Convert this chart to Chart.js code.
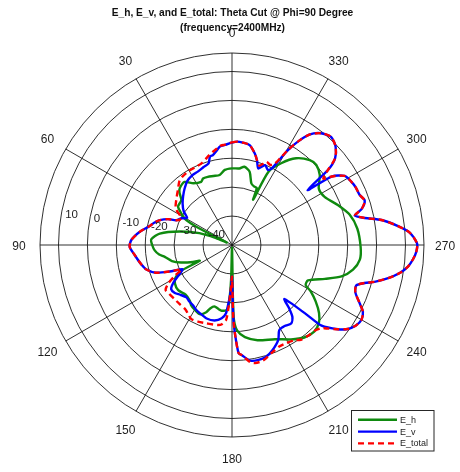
<!DOCTYPE html>
<html>
<head>
<meta charset="utf-8">
<script src="https://cdn.jsdelivr.net/npm/chart.js@4/dist/chart.umd.min.js"></script>
<style>
  html, body { margin: 0; padding: 0; background: #ffffff; }
  canvas { display: block; }
</style>
</head>
<body>
<canvas id="chart" width="460" height="472"></canvas>
<script>
// ---- text ----
const TITLE_LINES = ['E_h, E_v, and E_total: Theta Cut @ Phi=90 Degree', '(frequency=2400MHz)'];
const SERIES_NAMES = ['E_h', 'E_v', 'E_total'];

// ---- polar axes ----
const ANGLE_TICKS = [0, 30, 60, 90, 120, 150, 180, 210, 240, 270, 300, 330];
const RING_LABELS = [-40, -30, -20, -10, 0, 10];
const R_MIN = -50;
const R_MAX = 16.4;
const ANGLE_STEP = 0.5;      // angular resolution of the category axis (deg)
const RING_LABEL_ANGLE = 82; // direction along which ring values are written

// ---- E_h (dB) vs theta (deg) ----
const EH_THETA = [0,5.5,10,15,19.5,23.5,26,32,37,42.5,45,48.5,54.5,58,61.5,63,64.5,66.5,70,75.5,81,86,90,94,97.5,100,105,109,113.5,116,117,120,124,130,137,143,146,150,155,159,161,164,168,171,175.5,177,178.5,180,181,181.5,183.5,188,195,204.5,212,218,223.5,228,232,236,239.5,241.5,245,250,254,258.5,263.5,269,277.5,284.5,290.5,297.5,303,308.5,313.5,317.5,323.5,329,333.5,335,336.5,339,342.5,346.5,351,354.5];
const EH_DB = [-23.5,-23.9,-25.4,-25.3,-25.0,-24.9,-25.7,-24.8,-22.7,-23.3,-24.3,-26.6,-27.1,-29.3,-32.0,-37.0,-48.0,-44.0,-38.0,-31.3,-24.7,-22.0,-22.4,-23.2,-24.6,-26.4,-28.5,-31.4,-35.3,-37.6,-29.7,-27.5,-26.2,-25.7,-26.5,-25.8,-24.8,-24.2,-23.6,-25.1,-26.8,-27.9,-27.4,-27.0,-27.5,-29.8,-38.0,-49.0,-31.0,-24.1,-20.3,-17.8,-15.9,-14.2,-11.5,-9.4,-8.7,-9.6,-11.8,-15.1,-18.4,-21.0,-21.0,-15.8,-10.6,-7.3,-5.5,-5.5,-6.3,-8.0,-10.8,-13.9,-14.2,-11.2,-9.8,-10.2,-12.7,-17.0,-21.7,-32.7,-28.5,-28.4,-27.7,-23.9,-22.6,-23.4];

// ---- E_v (dB) vs theta (deg) ----
const EV_THETA = [0,4,7,9,12,14,16,20,25,30,35,40,45,50,55,59,62,66,68,71,74,77,82,87,91,96,102,106,110,113,116,118,120,123,126,130,134,139,143,147,151,155,161,167,172,175,176.5,178,179,180,181,182,183.5,185,189,193,197,201,206,209,213,217,220,222,224,225.5,227,228,231.5,234,237,240,243,245.5,249,252,254,255.5,258,260.5,263,265.5,268,270.5,274,276.5,279.5,281.5,283.5,285.5,288.5,291.5,295,298,301.5,304.5,306,308,310,313.5,317.5,321.5,325,327.5,329.5,331,332.5,334.5,337.5,341,343.5,346,350,354,357];
const EV_DB = [-14.6,-15.3,-15.7,-16.8,-18.2,-18.5,-20.6,-21.3,-22.0,-22.3,-23.0,-24.5,-26.1,-27.7,-29.6,-31.9,-30.3,-28.9,-26.1,-23.6,-22.0,-20.8,-17.7,-15.2,-14.6,-16.2,-17.9,-19.2,-22.0,-26.5,-30.9,-30.0,-28.4,-25.7,-24.0,-24.2,-25.2,-26.0,-25.5,-25.2,-24.4,-23.9,-23.1,-23.2,-24.4,-26.3,-29.8,-33.0,-36.0,-39.0,-25.0,-18.9,-12.5,-11.8,-9.5,-9.2,-9.6,-11.0,-13.5,-16.3,-16.6,-16.0,-17.5,-20.4,-24.0,-21.2,-14.7,-8.3,-3.2,-0.6,1.1,1.7,0.8,-1.5,-4.3,-4.8,-2.3,0.9,5.2,8.8,11.3,12.8,13.8,14.0,11.6,7.8,2.4,-3.1,-6.3,-3.5,-1.6,-2.6,-2.8,-3.3,-4.3,-8.2,-17.7,-7.9,-3.5,-0.6,0.7,-0.6,-3.4,-7.6,-11.9,-16.6,-20.1,-21.2,-20.1,-22.0,-19.5,-17.4,-14.9,-14.4,-14.2];

// ---- E_total (dB) vs theta (deg) ----
const ET_THETA = [0,4,7,9,12,15,20,26,31,36,39,44.5,51,57,61.5,64,66,68,71,74,77,82,87,91,96,102,106,110,113,116,118,121,124,128,133,138,144,148,151,156,162,170,173,175.5,177,178,179,180,181,182,183.5,185,189,191,195,200,205,209,213,216,220,224,227,228,231.5,234,237,240,243,245.5,249,252,254,255.5,258,260.5,263,265.5,268,270.5,274,276.5,279.5,281.5,283.5,285.5,288.5,291.5,295,298,301.5,304.5,306,308,310,313.5,317.5,321.5,325,327.5,329.5,331,332.5,334.5,337.5,341,343.5,346,350,354,357];
const ET_DB = [-14.5,-15.2,-15.5,-16.3,-17.2,-18.2,-19.8,-20.3,-20.4,-20.8,-21.2,-23.3,-25.2,-26.8,-30.0,-30.0,-28.9,-26.1,-23.6,-22.0,-20.8,-17.7,-15.2,-14.6,-16.2,-17.9,-19.2,-22.0,-26.5,-30.6,-27.9,-24.4,-22.3,-22.5,-22.7,-22.7,-22.5,-21.6,-20.8,-21.0,-21.5,-21.9,-22.5,-24.0,-29.0,-33.0,-36.0,-39.0,-25.0,-18.9,-12.5,-11.8,-8.9,-8.4,-8.6,-10.2,-11.3,-11.2,-10.7,-9.5,-9.0,-8.8,-7.8,-7.0,-3.2,-0.6,1.1,1.7,0.8,-1.5,-4.3,-4.8,-2.3,0.9,5.2,8.8,11.3,12.8,13.8,14.0,11.6,7.8,2.4,-3.1,-6.3,-3.5,-1.6,-2.6,-2.8,-3.3,-4.3,-8.2,-11.0,-7.9,-3.5,-0.6,0.7,-0.6,-3.4,-7.6,-11.9,-15.8,-18.5,-19.3,-18.9,-21.0,-19.5,-17.4,-14.9,-14.4,-14.2];

// ---- category axis: theta runs counter-clockwise from the top ----
const N = Math.round(360 / ANGLE_STEP);
const thetaLabels = Array.from({length: N}, (_, i) => (360 - i * ANGLE_STEP) % 360);
function indexOfTheta(t) {
  const a = ((360 - t) % 360 + 360) % 360;
  return Math.round(a / ANGLE_STEP) % N;
}
function toSeries(thetas, values) {
  const out = new Array(N).fill(null);
  thetas.forEach((t, k) => { out[indexOfTheta(t)] = values[k]; });
  return out;
}
const angleTickIdx = new Set(ANGLE_TICKS.map(indexOfTheta));

const FONT = '"Liberation Sans", Arial, Helvetica, sans-serif';
const GRID_COLOR = 'rgba(20,20,20,0.88)';
const TEXT_COLOR = '#1e1e1e';

// Title, angle labels, ring labels and legend box
const polarDecorations = {
  id: 'polarDecorations',
  afterDraw(chart) {
    const ctx = chart.ctx;
    const s = chart.scales.r;
    ctx.save();
    ctx.fillStyle = TEXT_COLOR;

    // angle labels around the outer ring
    ctx.font = '12px ' + FONT;
    ctx.textAlign = 'center';
    ctx.textBaseline = 'middle';
    ANGLE_TICKS.forEach(t => {
      const p = s.getPointPosition(indexOfTheta(t), s.drawingArea * 1.11);
      ctx.fillText(String(t), p.x, p.y + 1.5);
    });

    // ring values
    ctx.font = '11.5px ' + FONT;
    ctx.textAlign = 'left';
    ctx.textBaseline = 'bottom';
    const li = indexOfTheta(RING_LABEL_ANGLE);
    RING_LABELS.forEach(v => {
      const d = s.getDistanceFromCenterForValue(v) + s.getDistanceFromCenterForValue(R_MIN + 0.5);
      const p = s.getPointPosition(li, d);
      ctx.fillText('  ' + v, p.x, p.y);
    });

    // title
    ctx.fillStyle = '#111';
    ctx.font = 'bold 10.2px ' + FONT;
    ctx.textAlign = 'center';
    ctx.textBaseline = 'middle';
    ctx.fillText(TITLE_LINES[0], s.xCenter + 0.5, 13.3);
    ctx.fillText(TITLE_LINES[1], s.xCenter + 0.5, 28.5);

    // legend
    const bx = 351.5, by = 410.5, bw = 82.5, bh = 40.5;
    ctx.fillStyle = '#ffffff';
    ctx.fillRect(bx, by, bw, bh);
    ctx.strokeStyle = '#262626';
    ctx.lineWidth = 1;
    ctx.strokeRect(bx, by, bw, bh);
    ctx.font = '9px ' + FONT;
    ctx.textAlign = 'left';
    ctx.textBaseline = 'middle';
    chart.data.datasets.forEach((ds, i) => {
      const y = 419.8 + i * 11.8;
      ctx.save();
      ctx.strokeStyle = ds.borderColor;
      ctx.lineWidth = ds.borderWidth;
      ctx.setLineDash(ds.borderDash || []);
      ctx.beginPath();
      ctx.moveTo(358, y);
      ctx.lineTo(397, y);
      ctx.stroke();
      ctx.restore();
      ctx.fillStyle = TEXT_COLOR;
      ctx.fillText(ds.label, 400, y + 0.5);
    });
    ctx.restore();
  }
};

const lineStyle = { pointRadius: 0, pointHoverRadius: 0, pointHitRadius: 0, fill: false,
                    spanGaps: true, tension: 0.25, borderJoinStyle: 'round' };

new Chart(document.getElementById('chart'), {
  type: 'radar',
  data: {
    labels: thetaLabels,
    datasets: [
      Object.assign({ label: SERIES_NAMES[0], data: toSeries(EH_THETA, EH_DB),
        borderColor: '#0f8a0f', borderWidth: 2.4, order: 3 }, lineStyle),
      Object.assign({ label: SERIES_NAMES[1], data: toSeries(EV_THETA, EV_DB),
        borderColor: '#0000ff', borderWidth: 2.4, order: 2 }, lineStyle),
      Object.assign({ label: SERIES_NAMES[2], data: toSeries(ET_THETA, ET_DB),
        borderColor: '#ff0000', borderWidth: 2.4, borderDash: [6, 4], order: 1 }, lineStyle)
    ]
  },
  options: {
    responsive: false,
    animation: false,
    events: [],
    layout: { padding: { left: 40, right: 36, top: 53, bottom: 35 } },
    plugins: { legend: { display: false }, title: { display: false }, tooltip: { enabled: false } },
    scales: {
      r: {
        min: R_MIN,
        max: R_MAX,
        beginAtZero: false,
        afterBuildTicks: (scale) => {
          scale.ticks = [R_MIN, ...RING_LABELS, R_MAX].map(v => ({ value: v }));
        },
        ticks: { display: false },
        pointLabels: { display: false },
        grid: { circular: true, color: GRID_COLOR, lineWidth: 1 },
        angleLines: {
          display: true,
          color: GRID_COLOR,
          lineWidth: (c) => angleTickIdx.has(c.index) ? 1 : 0
        }
      }
    }
  },
  plugins: [polarDecorations]
});
</script>
</body>
</html>
